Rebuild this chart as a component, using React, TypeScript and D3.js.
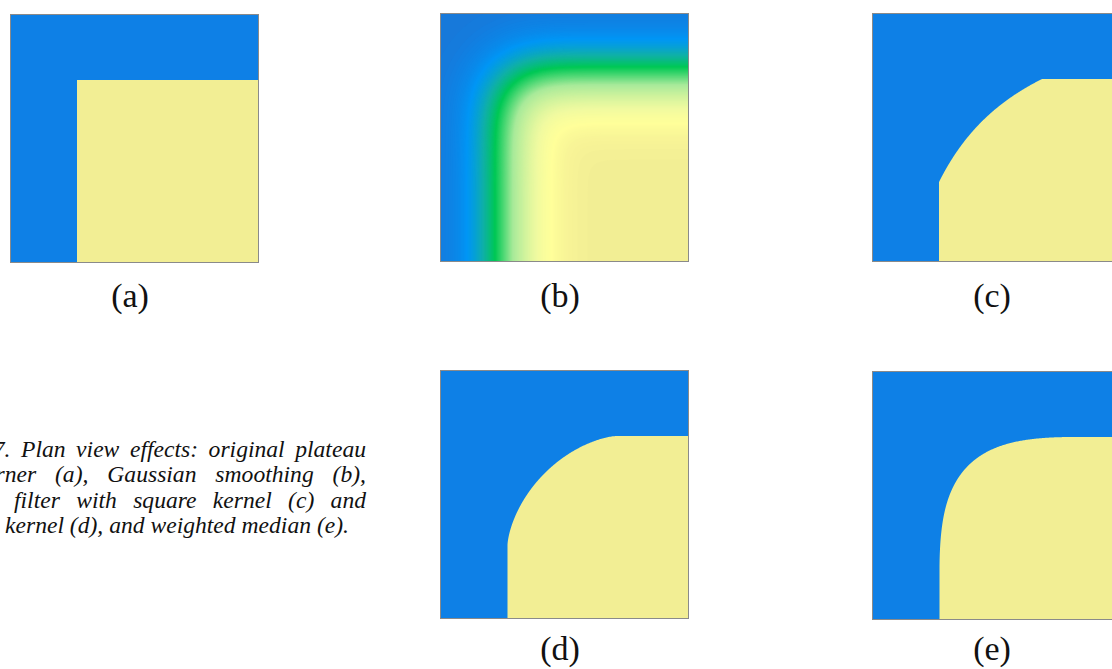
import React, { useMemo, useLayoutEffect, useRef } from 'react';
import * as d3 from 'd3';

// ---------- data ----------
const panelLabels = ['(a)', '(b)', '(c)', '(d)', '(e)'];
const panelFilters = ['original', 'gaussian', 'squareMedian', 'circularMedian', 'weightedMedian'];
const kernelRadius = [0, 0, 103, 109, 130]; // px
const kernelSigma = [0, 28, 0, 0, 55]; // px
const rampStops = [0, 0.013, 0.076, 0.196, 0.334, 0.585, 0.858, 0.946, 0.992, 1];
const rampColors = ['#1779DA', '#1080E2', '#0096F5', '#10B0A8', '#00C855', '#A8EA9A', '#F0FAA0', '#FFFF9A', '#F6F296', '#F2EE94'];
const captionLines = [
  'Figure 7. Plan view effects: original plateau',
  'corner (a), Gaussian smoothing (b),',
  'median filter with square kernel (c) and',
  'circular kernel (d), and weighted median (e).',
];
const captionAnchorWord = [2, 1, 1, 1];

// ---------- layout ----------
const W = 1112;
const H = 669;
const PANEL_POS = [[10, 14], [440, 13], [872, 13], [440, 370], [872, 371]];
const LABEL_DY = [293, 294, 294, 290, 289];
const N = 249;
const STEP_X = 67;
const STEP_Y = 66;
const BLUE = '#0E80E6';
const YELLOW = '#F2EE94';
const LABEL_DX = 120;
const CAPTION_ANCHOR_X = [21, 55, 14, 5];
const CAPTION_RIGHT = 366;
const CAPTION_JUSTIFY = [true, true, true, false];
const CAPTION_BASE = 457;
const CAPTION_PITCH = 25.3;
const CAPTION_FONT = 23.6;

function erf(x: number) {
  const s = x < 0 ? -1 : 1;
  const a = Math.abs(x);
  const t = 1 / (1 + 0.3275911 * a);
  const y = 1 - (((((1.061405429 * t - 1.453152027) * t) + 1.421413741) * t - 0.284496736) * t + 0.254829592) * t * Math.exp(-a * a);
  return s * y;
}
const Phi = (x: number) => 0.5 * (1 + erf(x / Math.SQRT2));

function computeGrid(kind: string, r: number, s: number) {
  const vals = new Float64Array(N * N);
  let f: (px: number, py: number) => number;
  if (kind === 'gaussian') {
    f = (px, py) => Phi(px / s) * Phi(py / s);
  } else if (kind === 'squareMedian') {
    const c = (v: number) => Math.max(0, Math.min(1, (v + r) / (2 * r)));
    f = (px, py) => c(px) * c(py);
  } else if (kind === 'circularMedian') {
    const us: number[] = [];
    const hs: number[] = [];
    for (let u = -r + 0.5; u < r; u += 1) { us.push(u); hs.push(Math.sqrt(r * r - u * u)); }
    const total = d3.sum(hs) * 2;
    f = (px, py) => {
      if (px >= r && py >= r) return 1;
      if (px <= -r || py <= -r) return 0;
      let sum = 0;
      for (let k = 0; k < us.length; k++) {
        if (px + us[k] <= 0) continue;
        const h = hs[k];
        const lo = Math.max(-h, -py);
        if (h > lo) sum += h - lo;
      }
      return sum / total;
    };
  } else if (kind === 'weightedMedian') {
    const us: number[] = [];
    const wu: number[] = [];
    const ph: number[] = [];
    const pmh: number[] = [];
    for (let u = -r + 0.5; u < r; u += 1) {
      const h = Math.sqrt(r * r - u * u);
      us.push(u);
      wu.push(Math.exp(-(u * u) / (2 * s * s)));
      ph.push(Phi(h / s));
      pmh.push(Phi(-h / s));
    }
    let total = 0;
    for (let k = 0; k < us.length; k++) total += wu[k] * (ph[k] - pmh[k]);
    f = (px, py) => {
      if (px >= r && py >= r) return 1;
      if (px <= -r || py <= -r) return 0;
      const P = Phi(-py / s);
      let sum = 0;
      for (let k = 0; k < us.length; k++) {
        if (px + us[k] <= 0) continue;
        const c = ph[k] - Math.max(pmh[k], P);
        if (c > 0) sum += wu[k] * c;
      }
      return sum / total;
    };
  } else {
    f = (px, py) => (px > 0 && py > 0 ? 1 : 0);
  }
  for (let j = 0; j < N; j++) {
    for (let i = 0; i < N; i++) {
      vals[j * N + i] = f(i + 0.5 - STEP_X, j + 0.5 - STEP_Y);
    }
  }
  return vals;
}

const color = d3.scaleLinear<string>().domain(rampStops).range(rampColors).interpolate(d3.interpolateRgb).clamp(true);

function Panel({ idx }: { idx: number }) {
  const kind = panelFilters[idx];
  const [x0, y0] = PANEL_POS[idx];
  const geo = useMemo(() => {
    const path = d3.geoPath();
    if (kind === 'original') return null;
    const vals = computeGrid(kind, kernelRadius[idx], kernelSigma[idx]);
    if (kind === 'gaussian') {
      const step = 0.004;
      const thr = d3.range(step / 2, 1, step);
      const cs = d3.contours().size([N, N]).thresholds(thr)(Array.from(vals));
      return cs.map((c) => ({ d: path(c as any) || '', fill: color(Math.min(1, c.value + step / 2)) }));
    }
    const c = d3.contours().size([N, N]).thresholds([0.5])(Array.from(vals))[0];
    return [{ d: path(c as any) || '', fill: YELLOW }];
  }, [idx]);

  return (
    <g transform={`translate(${x0},${y0})`}>
      <rect x={0} y={0} width={N} height={N} fill={kind === 'gaussian' ? color(0) : BLUE} />
      {kind === 'original' && (
        <rect x={STEP_X} y={STEP_Y} width={N - STEP_X} height={N - STEP_Y} fill={YELLOW} />
      )}
      {geo && geo.map((g, i) => <path key={i} d={g.d} fill={g.fill} />)}
      <rect x={0.5} y={0.5} width={N - 1} height={N - 1} fill="none" stroke="#8a8a8a" strokeWidth={1} />
      <text
        x={LABEL_DX}
        y={LABEL_DY[idx]}
        textAnchor="middle"
        fontFamily="'Liberation Serif', 'Times New Roman', serif"
        fontSize={34}
        fill="#111"
      >
        {panelLabels[idx]}
      </text>
    </g>
  );
}

function Caption() {
  const ref = useRef<SVGGElement>(null);
  useLayoutEffect(() => {
    const g = d3.select(ref.current);
    g.selectAll('*').remove();
    captionLines.forEach((line, li) => {
      const words = line.split(' ');
      const y = CAPTION_BASE + li * CAPTION_PITCH;
      const nodes = words.map((w) => g.append('text').attr('y', y).text(w));
      const widths = nodes.map((t) => (t.node() as SVGTextElement).getComputedTextLength());
      const a = captionAnchorWord[li];
      let gap = CAPTION_FONT * 0.25;
      if (CAPTION_JUSTIFY[li]) {
        const rest = d3.sum(widths.slice(a));
        gap = (CAPTION_RIGHT - CAPTION_ANCHOR_X[li] - rest) / (words.length - 1 - a);
      }
      let x = CAPTION_ANCHOR_X[li];
      for (let i = a; i < words.length; i++) { nodes[i].attr('x', x); x += widths[i] + gap; }
      x = CAPTION_ANCHOR_X[li];
      for (let i = a - 1; i >= 0; i--) { x -= gap + widths[i]; nodes[i].attr('x', x); }
    });
  }, []);
  return (
    <g
      ref={ref}
      fontFamily="'Liberation Serif', 'Times New Roman', serif"
      fontStyle="italic"
      fontSize={CAPTION_FONT}
      fill="#111"
    />
  );
}

export default function App() {
  return (
    <svg
      width={W}
      height={H}
      viewBox={`0 0 ${W} ${H}`}
      style={{ position: 'absolute', left: 0, top: 0, background: '#fff', overflow: 'hidden' }}
    >
      {panelLabels.map((_, i) => <Panel key={i} idx={i} />)}
      <Caption />
    </svg>
  );
}
